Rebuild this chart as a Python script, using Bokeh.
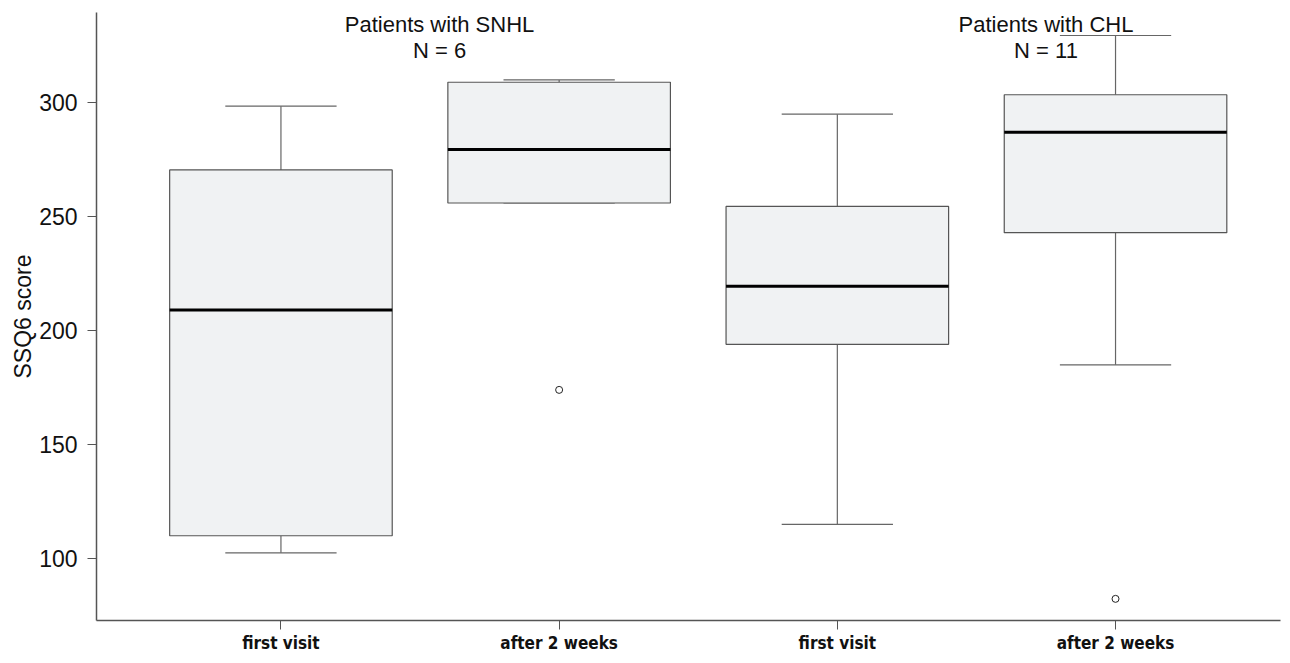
from bokeh.plotting import figure
from bokeh.models import FixedTicker, ColumnDataSource
from bokeh.core.properties import value
from bokeh.embed import file_html
from bokeh.resources import INLINE

# ---- data ----
categories = ["first visit", "after 2 weeks", "first visit", "after 2 weeks"]
positions = [1, 2, 3, 4]
whisker_low = [102.5, 256.0, 115.0, 185.0]
q1 = [110.0, 256.0, 194.0, 243.0]
median = [209.0, 279.5, 219.5, 287.0]
q3 = [270.5, 309.0, 254.5, 303.5]
whisker_high = [298.5, 310.0, 295.0, 329.5]
outlier_pos = [2, 4]
outlier_val = [174.0, 82.3]

group_titles = ["Patients with SNHL", "Patients with CHL"]
group_n = ["N = 6", "N = 11"]
group_x = [1.57, 3.75]

y_ticks = [100, 150, 200, 250, 300]

BOX_HALF = 0.4
CAP_HALF = 0.2

p = figure(width=1282, height=655, output_backend="svg", toolbar_location=None,
           x_range=(0.337, 4.593), y_range=(72.8, 339.6),
           min_border_left=96, min_border_right=2, min_border_top=12, min_border_bottom=32)
p.outline_line_color = None
p.xgrid.visible = False
p.ygrid.visible = False
p.background_fill_color = "white"
p.border_fill_color = "white"

src = ColumnDataSource(dict(
    x=positions,
    left=[x - BOX_HALF for x in positions],
    right=[x + BOX_HALF for x in positions],
    cap_l=[x - CAP_HALF for x in positions],
    cap_r=[x + CAP_HALF for x in positions],
    wl=whisker_low, q1=q1, med=median, q3=q3, wh=whisker_high,
))

# whiskers
p.segment(x0="x", y0="q3", x1="x", y1="wh", source=src, line_color="#666666", line_width=1.2)
p.segment(x0="x", y0="wl", x1="x", y1="q1", source=src, line_color="#666666", line_width=1.2)
p.segment(x0="cap_l", y0="wh", x1="cap_r", y1="wh", source=src, line_color="#666666", line_width=1.2)
p.segment(x0="cap_l", y0="wl", x1="cap_r", y1="wl", source=src, line_color="#666666", line_width=1.2)
# boxes
p.quad(left="left", right="right", bottom="q1", top="q3", source=src,
       fill_color="#F0F2F3", line_color="#555555", line_width=1.2)
# medians
p.segment(x0="left", y0="med", x1="right", y1="med", source=src, line_color="#000000", line_width=3)
# outliers
p.scatter(x=outlier_pos, y=outlier_val, marker="circle", size=7,
          fill_color="white", line_color="#222222", line_width=1)

# group annotations
p.text(x=group_x, y=[334.5, 334.5], text=group_titles, text_align="center",
       text_baseline="middle", text_font=value("Liberation Sans"),
       text_font_size="22px", text_color="#111111")
p.text(x=group_x, y=[323.0, 323.0], text=group_n, text_align="center",
       text_baseline="middle", text_font=value("Liberation Sans"),
       text_font_size="22px", text_color="#111111")

# axes
p.xaxis.ticker = FixedTicker(ticks=positions)
p.xaxis.major_label_overrides = {pos: lab for pos, lab in zip(positions, categories)}
p.xaxis.major_label_text_font = "'Liberation Sans Narrow', 'DejaVu Sans Condensed', sans-serif"
p.xaxis.major_label_text_font_style = "bold"
p.xaxis.major_label_text_font_size = "17px"
p.xaxis.major_label_text_color = "#111111"
p.xaxis.major_label_standoff = 3
p.xaxis.major_tick_in = 0
p.xaxis.major_tick_out = 9
p.xaxis.minor_tick_line_color = None
p.xaxis.axis_line_color = "#555555"
p.xaxis.axis_line_width = 1.5
p.xaxis.major_tick_line_color = "#555555"

p.yaxis.ticker = FixedTicker(ticks=y_ticks)
p.yaxis.major_label_text_font = "Liberation Sans"
p.yaxis.major_label_text_font_size = "23px"
p.yaxis.major_label_text_color = "#111111"
p.yaxis.major_label_standoff = 10
p.yaxis.major_tick_in = 0
p.yaxis.major_tick_out = 9
p.yaxis.minor_tick_line_color = None
p.yaxis.axis_line_color = "#555555"
p.yaxis.axis_line_width = 1.5
p.yaxis.major_tick_line_color = "#555555"
p.yaxis.axis_label = "SSQ6 score"
p.yaxis.axis_label_text_font = "Liberation Sans"
p.yaxis.axis_label_text_font_style = "normal"
p.yaxis.axis_label_text_font_size = "23px"
p.yaxis.axis_label_text_color = "#111111"
p.yaxis.axis_label_standoff = 0

open("out.html", "w").write(file_html(p, INLINE))
